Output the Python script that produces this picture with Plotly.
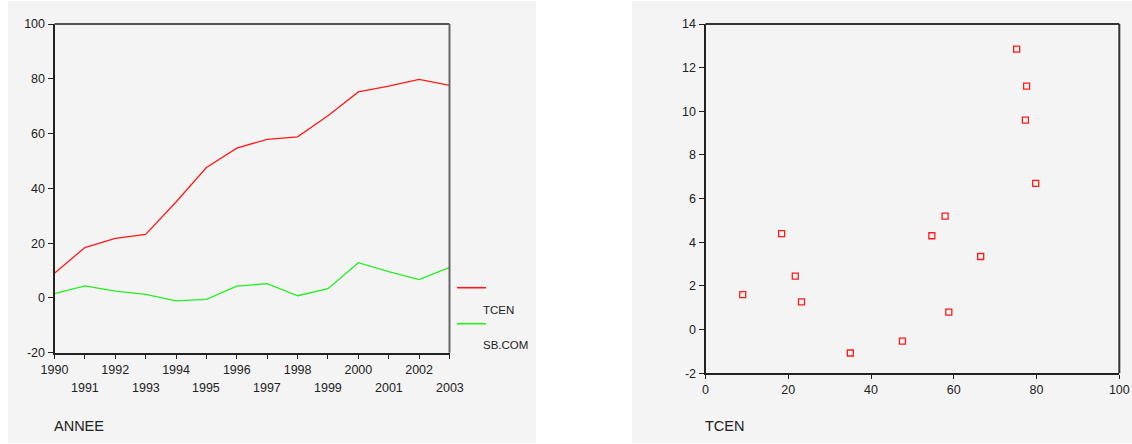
import plotly.graph_objects as go

years = [1990, 1991, 1992, 1993, 1994, 1995, 1996, 1997, 1998, 1999, 2000, 2001, 2002, 2003]
tcen = [9.0, 18.4, 21.7, 23.2, 35.0, 47.6, 54.7, 57.9, 58.8, 66.5, 75.2, 77.3, 79.8, 77.6]
sbcom = [1.6, 4.4, 2.45, 1.27, -1.07, -0.53, 4.3, 5.2, 0.8, 3.35, 12.85, 9.6, 6.7, 11.15]
series_names = ["TCEN", "SB.COM"]
left_yticks = [-20, 0, 20, 40, 60, 80, 100]
right_xticks = [0, 20, 40, 60, 80, 100]
right_yticks = [-2, 0, 2, 4, 6, 8, 10, 12, 14]

W, H = 1132, 444
RED = "#ff1a1a"
GREEN = "#22ee22"
BG = "#f4f4f4"
FONT = "Liberation Sans, Arial, sans-serif"
TXT = "#222222"


def px(x):
    return x / W


def py(y):
    return 1 - y / H


fig = go.Figure()
fig.add_trace(go.Scatter(x=years, y=tcen, mode="lines", line=dict(color=RED, width=1.3),
                         xaxis="x", yaxis="y", showlegend=False))
fig.add_trace(go.Scatter(x=years, y=sbcom, mode="lines", line=dict(color=GREEN, width=1.3),
                         xaxis="x", yaxis="y", showlegend=False))
fig.add_trace(go.Scatter(x=tcen, y=sbcom, mode="markers",
                         marker=dict(symbol="square-open", size=6, color=RED, line=dict(width=1.3, color=RED)),
                         xaxis="x2", yaxis="y2", showlegend=False))


def axis_style(ticklen):
    return dict(showline=True, linecolor="#222", linewidth=2, showgrid=False, zeroline=False,
                automargin=False, ticks="outside", ticklen=ticklen, tickcolor="#222", tickwidth=1,
                tickfont=dict(family=FONT, size=12.5, color=TXT))


even_text = [str(y) if i % 2 == 0 else "" for i, y in enumerate(years)]

fig.update_layout(
    template="none",
    width=W, height=H,
    margin=dict(l=0, r=0, t=0, b=0, pad=0),
    paper_bgcolor="white",
    plot_bgcolor=BG,
    showlegend=False,
    xaxis=dict(domain=[px(54.5), px(449.5)], range=[years[0], years[-1]], anchor="y",
               tickmode="array", tickvals=years, ticktext=even_text, **axis_style(4)),
    yaxis=dict(domain=[py(352.7), py(24)], range=[-20, 100], anchor="x",
               tickmode="array", tickvals=left_yticks, ticktext=[str(v) for v in left_yticks],
               **axis_style(5)),
    xaxis2=dict(domain=[px(705.5), px(1119.3)], range=[0, 100], anchor="y2",
                tickmode="array", tickvals=right_xticks, ticktext=[str(v) for v in right_xticks],
                **axis_style(4)),
    yaxis2=dict(domain=[py(373.3), py(24)], range=[-2, 14], anchor="x2",
                tickmode="array", tickvals=right_yticks, ticktext=[str(v) for v in right_yticks],
                **axis_style(5)),
)

shapes = [
    dict(type="rect", xref="paper", yref="paper", x0=px(8), x1=px(536), y0=py(443), y1=py(1),
         fillcolor=BG, line=dict(width=0), layer="below"),
    dict(type="rect", xref="paper", yref="paper", x0=px(632), x1=px(1132), y0=py(443), y1=py(1),
         fillcolor=BG, line=dict(width=0), layer="below"),
    # frame top/right lines
    dict(type="line", xref="x domain", yref="y domain", x0=0, x1=1, y0=1, y1=1, line=dict(color="#555", width=2)),
    dict(type="line", xref="x domain", yref="y domain", x0=1, x1=1, y0=0, y1=1, line=dict(color="#666", width=2)),
    dict(type="line", xref="x2 domain", yref="y2 domain", x0=0, x1=1, y0=1, y1=1, line=dict(color="#333", width=2)),
    dict(type="line", xref="x2 domain", yref="y2 domain", x0=1, x1=1, y0=0, y1=1, line=dict(color="#333", width=2)),
    # legend keys
    dict(type="line", xref="paper", yref="paper", x0=px(457), x1=px(486), y0=py(287.7), y1=py(287.7),
         line=dict(color=RED, width=1.6)),
    dict(type="line", xref="paper", yref="paper", x0=px(457), x1=px(486), y0=py(323.7), y1=py(323.7),
         line=dict(color=GREEN, width=1.6)),
]

annotations = []
for i, y in enumerate(years):
    if i % 2 == 1:
        annotations.append(dict(x=y, xref="x", y=py(388), yref="paper", text=str(y), showarrow=False,
                                xanchor="center", yanchor="middle",
                                font=dict(family=FONT, size=12.5, color=TXT)))
annotations += [
    dict(x=px(481), y=py(310), xref="paper", yref="paper", text=series_names[0], showarrow=False,
         xanchor="left", yanchor="middle", font=dict(family=FONT, size=11.5, color=TXT)),
    dict(x=px(481), y=py(345), xref="paper", yref="paper", text=series_names[1], showarrow=False,
         xanchor="left", yanchor="middle", font=dict(family=FONT, size=11.5, color=TXT)),
    dict(x=px(52), y=py(426), xref="paper", yref="paper", text="ANNEE", showarrow=False,
         xanchor="left", yanchor="middle", font=dict(family=FONT, size=14.5, color=TXT)),
    dict(x=px(703), y=py(426), xref="paper", yref="paper", text="TCEN", showarrow=False,
         xanchor="left", yanchor="middle", font=dict(family=FONT, size=14.5, color=TXT)),
]

fig.update_layout(shapes=shapes, annotations=annotations)
fig.write_html("out.html")
